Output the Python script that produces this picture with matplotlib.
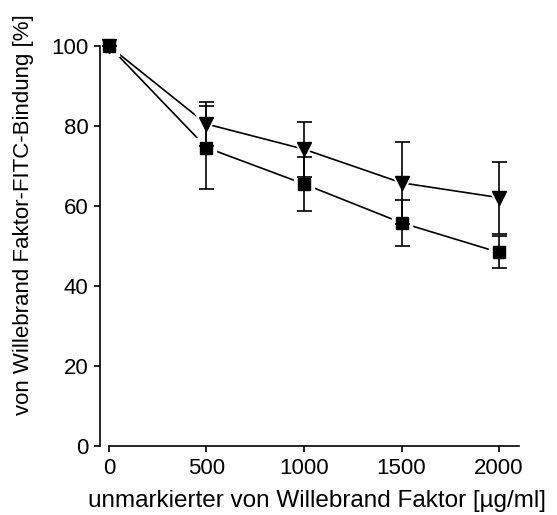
import numpy as np
import matplotlib
matplotlib.use('Agg')
import matplotlib.pyplot as plt

plt.rcParams['font.family'] = ['Liberation Sans', 'DejaVu Sans']

# concentration of unlabelled vWF (ug/ml)
conc = [0, 500, 1000, 1500, 2000]
# square series
sq_mean = [100, 74.6, 65.5, 55.8, 48.4]
sq_err = [0, 10.4, 6.7, 5.7, 4.0]
# triangle series
tri_mean = [100, 80.5, 74.2, 65.8, 62.1]
tri_err = [0, 5.6, 6.9, 10.3, 9.0]

fig = plt.figure(figsize=(5.57, 5.15), dpi=100)
ax = fig.add_axes([0.1799, 0.134, 0.7545, 0.8155])

for mean, err, mk, ms in [(sq_mean, sq_err, 's', 8), (tri_mean, tri_err, 'v', 10)]:
    # connecting line, broken around the markers
    ax.plot(conc, mean, '-', color='k', lw=1.2, zorder=1)
    ax.plot(conc, mean, mk, color='white', ms=ms + 6, mec='white', zorder=2)
    ax.errorbar(conc, mean, yerr=err, fmt='none', ecolor='k', elinewidth=1.2,
                capsize=5.4, capthick=1.2, zorder=3)
    ax.plot(conc, mean, mk, color='k', ms=ms, zorder=4)

ax.set_xlim(-45, 2110)
ax.set_ylim(0, 105)
ax.set_xticks([0, 500, 1000, 1500, 2000])
ax.set_yticks([0, 20, 40, 60, 80, 100])
ax.spines['top'].set_visible(False)
ax.spines['right'].set_visible(False)
ax.spines['left'].set_bounds(0, 100)
ax.spines['bottom'].set_bounds(0, 2100)
for s in ['left', 'bottom']:
    ax.spines[s].set_linewidth(1.2)
ax.tick_params(direction='out', length=4.5, width=1.2, labelsize=16, pad=4)

ax.set_xlabel('unmarkierter von Willebrand Faktor [µg/ml]', fontsize=17.5)
ax.set_ylabel('von Willebrand Faktor-FITC-Bindung [%]', fontsize=16)
ax.xaxis.set_label_coords(0.516, -0.104)
ax.yaxis.set_label_coords(-0.158, 0.55)

fig.savefig('out.png', dpi=100)
